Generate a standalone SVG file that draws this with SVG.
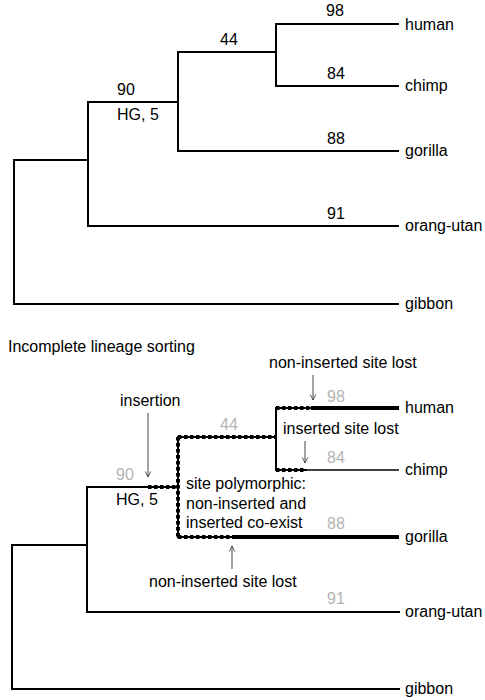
<svg xmlns="http://www.w3.org/2000/svg" width="485" height="700" viewBox="0 0 485 700">
<style>
text{font-family:"Liberation Sans",Arial,sans-serif;font-size:16px;fill:#000}
.g{fill:#b4b4b4}
.m{text-anchor:middle}
.ln{fill:none;stroke:#000;stroke-width:2;stroke-linecap:square}
.tn{fill:none;stroke:#000;stroke-width:2;stroke-linecap:square}
.thin{fill:none;stroke:#000;stroke-width:1.3}
.thick{fill:none;stroke:#000;stroke-width:4}
.dot{fill:none;stroke:#000;stroke-width:4;stroke-dasharray:3.5 2.5}
.arr{fill:none;stroke:#444;stroke-width:1;marker-end:url(#ah)}
</style>
<defs>
<marker id="ah" viewBox="0 0 10 10" refX="9" refY="5" markerWidth="7" markerHeight="7" orient="auto" markerUnits="userSpaceOnUse">
<path d="M1,1 L9,5 L1,9" fill="none" stroke="#444" stroke-width="1.3"/>
</marker>
</defs>
<rect width="485" height="700" fill="#fff"/>
<g id="connectors">
<path class="ln" d="M14,160 V304 H398 M14,160 H88 M88,102 V226 H398 M88,102 H178 M178,52 V151 H398 M178,52 H276 M276,24 V86 M276,24 H398 M276,86 H398"/>
<path class="tn" d="M12,545 V689 H399 M12,545 H87 M87,487 V612 H399 M87,487 H148"/>
<path class="tn" d="M148,487 H178 M178,437 V537 M178,437 H276 M276,408 V470 M276,408 H311 M276,470 H306 M178,537 H232"/>
<path class="dot" d="M148,487 H178 M178,437 V537 M178,437 H276 M276,408 H311 M276,470 H306 M178,537 H232"/>
<path class="thick" d="M311,408 H399 M232,537 H399"/>
<path class="thin" d="M306,470 H399"/>
<path class="arr" d="M148,413 V477"/>
<path class="arr" d="M313,375 V400"/>
<path class="arr" d="M305,441 V463"/>
<path class="arr" d="M232,569 V546"/>
</g>
<g id="top-labels">
<text x="335" y="16" class="m">98</text>
<text x="229" y="45" class="m">44</text>
<text x="336" y="79" class="m">84</text>
<text x="126" y="95" class="m">90</text>
<text x="117" y="120">HG, 5</text>
<text x="336" y="144" class="m">88</text>
<text x="336" y="219" class="m">91</text>
</g>
<g id="top-taxa">
<text x="405" y="30">human</text>
<text x="405" y="91">chimp</text>
<text x="405" y="156">gorilla</text>
<text x="405" y="231">orang-utan</text>
<text x="405" y="309">gibbon</text>
</g>
<g id="title"><text x="8" y="352">Incomplete lineage sorting</text></g>
<g id="bottom-labels">
<text x="336" y="402" class="m g">98</text>
<text x="229" y="430" class="m g">44</text>
<text x="336" y="463" class="m g">84</text>
<text x="125" y="480" class="m g">90</text>
<text x="116" y="505">HG, 5</text>
<text x="336" y="529" class="m g">88</text>
<text x="336" y="604" class="m g">91</text>
</g>
<g id="annotations">
<text x="269" y="368">non-inserted site lost</text>
<text x="120" y="406">insertion</text>
<text x="283" y="434">inserted site lost</text>
<text x="186" y="489">site polymorphic:</text>
<text x="186" y="509">non-inserted and</text>
<text x="186" y="528">inserted co-exist</text>
<text x="149" y="587">non-inserted site lost</text>
</g>
<g id="bottom-taxa">
<text x="405" y="413">human</text>
<text x="405" y="475">chimp</text>
<text x="405" y="542">gorilla</text>
<text x="405" y="617">orang-utan</text>
<text x="405" y="694">gibbon</text>
</g>
</svg>
